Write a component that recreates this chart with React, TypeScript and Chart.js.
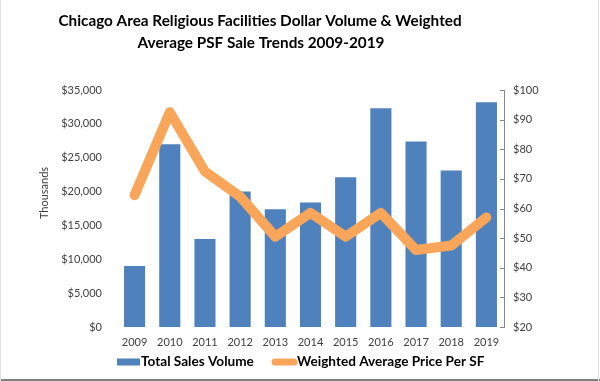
import React, { useEffect, useRef } from "react";
import { Chart, registerables } from "chart.js";

Chart.register(...registerables);

const years = ["2009", "2010", "2011", "2012", "2013", "2014", "2015", "2016", "2017", "2018", "2019"];
const salesVolume = [9000, 27000, 13000, 20000, 17400, 18400, 22100, 32300, 27400, 23100, 33200];
const avgPricePSF = [64.5, 92.5, 72.5, 64, 50.5, 58.5, 50.5, 58.5, 46, 47.5, 57];
const titleLines = ["Chicago Area Religious Facilities Dollar Volume & Weighted", "Average PSF Sale Trends 2009-2019"];
const seriesNames = ["Total Sales Volume", "Weighted Average Price Per SF"];

const BLUE = "#4F81BD";
const ORANGE = "#F9A65A";
const FONT = "Lato, 'Liberation Sans', sans-serif";
const TICK_COLOR = "#404040";

const fmtDollar = (v: number) => "$" + Number(v).toLocaleString("en-US");

const decorPlugin = {
  id: "decor",
  afterDraw(chart: any) {
    const ctx = chart.ctx;
    const area = chart.chartArea;
    ctx.save();
    // title
    ctx.fillStyle = "#000";
    ctx.font = `bold 15.3px ${FONT}`;
    ctx.textAlign = "center";
    ctx.textBaseline = "middle";
    ctx.fillText(titleLines[0], 260, 21);
    ctx.fillText(titleLines[1], 261, 43);

    // axis title
    ctx.save();
    ctx.translate(44, 193);
    ctx.rotate(-Math.PI / 2);
    ctx.font = `11px ${FONT}`;
    ctx.fillStyle = TICK_COLOR;
    ctx.fillText("Thousands", 0, 0);
    ctx.restore();

    // right axis inward ticks
    const yR = chart.scales.yRight;
    ctx.strokeStyle = "#868686";
    ctx.lineWidth = 1;
    yR.ticks.forEach((t: any) => {
      const y = Math.round(yR.getPixelForValue(t.value)) + 0.5;
      ctx.beginPath();
      ctx.moveTo(area.right - 4, y);
      ctx.lineTo(area.right, y);
      ctx.stroke();
    });

    // legend
    const ly = 362;
    ctx.fillStyle = BLUE;
    ctx.fillRect(117, ly - 3.5, 23, 7);
    ctx.strokeStyle = ORANGE;
    ctx.lineWidth = 7;
    ctx.lineCap = "round";
    ctx.beginPath();
    ctx.moveTo(275, ly);
    ctx.lineTo(294, ly);
    ctx.stroke();
    ctx.fillStyle = "#000";
    ctx.font = `bold 13.6px ${FONT}`;
    ctx.textAlign = "left";
    ctx.textBaseline = "middle";
    ctx.fillText(seriesNames[0], 141, ly);
    ctx.fillText(seriesNames[1], 297, ly);

    // frame
    ctx.lineCap = "butt";
    ctx.strokeStyle = "#808080";
    ctx.lineWidth = 2;
    ctx.beginPath();
    ctx.moveTo(0, 380);
    ctx.lineTo(600, 380);
    ctx.stroke();
    ctx.strokeStyle = "#e0e0e0";
    ctx.lineWidth = 1;
    ctx.beginPath();
    ctx.moveTo(598.5, 0);
    ctx.lineTo(598.5, 381);
    ctx.moveTo(0.5, 0);
    ctx.lineTo(0.5, 381);
    ctx.stroke();
    ctx.restore();
  },
};

export default function App() {
  const ref = useRef<HTMLCanvasElement | null>(null);
  useEffect(() => {
    if (!ref.current) return;
    document.body.style.margin = "0";
    const chart = new Chart(ref.current, {
      data: {
        labels: years,
        datasets: [
          {
            type: "line",
            label: seriesNames[1],
            data: avgPricePSF,
            yAxisID: "yRight",
            borderColor: ORANGE,
            backgroundColor: ORANGE,
            borderWidth: 10,
            borderJoinStyle: "round",
            borderCapStyle: "round",
            pointRadius: 0,
            tension: 0,
            order: 0,
          } as any,
          {
            type: "bar",
            label: seriesNames[0],
            data: salesVolume,
            yAxisID: "yLeft",
            backgroundColor: BLUE,
            barPercentage: 0.6,
            categoryPercentage: 1,
            order: 1,
          } as any,
        ],
      },
      options: {
        responsive: false,
        animation: false,
        devicePixelRatio: 1,
        layout: { padding: { top: 90, bottom: 0, left: 0, right: 0 } },
        plugins: { legend: { display: false }, title: { display: false }, tooltip: { enabled: false } },
        scales: {
          x: {
            offset: true,
            grid: { display: false, drawTicks: false },
            border: { display: false },
            ticks: { color: TICK_COLOR, font: { family: FONT, size: 11 }, padding: 9, maxRotation: 0 },
            afterFit: (s: any) => { s.height = 54; },
          },
          yLeft: {
            position: "left",
            min: 0,
            max: 35000,
            grid: { display: false, drawTicks: false },
            border: { display: false },
            ticks: { stepSize: 5000, color: TICK_COLOR, font: { family: FONT, size: 11 }, padding: 15, callback: (v: any) => fmtDollar(v) },
            afterFit: (s: any) => { s.width = 117; },
          },
          yRight: {
            position: "right",
            min: 20,
            max: 100,
            grid: { display: false, drawTicks: false },
            border: { display: true, color: "#868686", width: 1 },
            ticks: { stepSize: 10, color: TICK_COLOR, font: { family: FONT, size: 11 }, padding: 9, callback: (v: any) => fmtDollar(v) },
            afterFit: (s: any) => { s.width = 96; },
          },
        },
      } as any,
      plugins: [decorPlugin],
    });
    return () => chart.destroy();
  }, []);
  return (
    <div style={{ position: "absolute", left: 0, top: 0, width: 600, height: 381, background: "#fff" }}>
      <canvas ref={ref} width={600} height={381} style={{ width: 600, height: 381, display: "block" }} />
    </div>
  );
}
